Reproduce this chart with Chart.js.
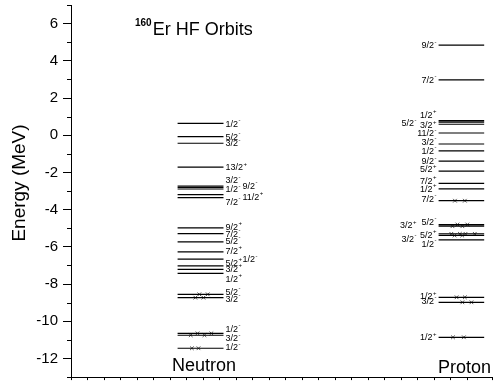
<!DOCTYPE html>
<html>
<head>
<meta charset="utf-8">
<script src="https://cdn.jsdelivr.net/npm/chart.js@4"></script>
<style>
html, body { margin: 0; padding: 0; background: #fff; }
</style>
</head>
<body>
<canvas id="orbitChart" width="497" height="382"></canvas>
<script>
// single-particle levels (MeV)
const neutronEnergy = [0.64, -0.07, -0.43, -1.71, -2.73, -2.81, -2.89, -3.19, -3.35, -4.98, -5.29, -5.73,
                       -6.27, -6.66, -7.02, -7.21, -7.43, -8.55, -8.73, -10.65, -10.75, -11.45];
const neutronSpin   = ['1/2', '5/2', '3/2', '13/2', '3/2', '9/2', '1/2', '11/2', '7/2', '9/2', '7/2', '5/2',
                       '7/2', '1/2', '5/2', '3/2', '1/2', '5/2', '3/2', '1/2', '3/2', '1/2'];
const neutronParity = ['-', '-', '-', '+', '-', '-', '-', '+', '-', '+', '-', '-',
                       '+', '-', '+', '+', '+', '-', '-', '-', '-', '-'];

const protonEnergy = [4.84, 2.98, 0.78, 0.70, 0.59, 0.12, -0.47, -0.84, -1.39, -1.93, -2.59, -2.88,
                      -3.52, -4.80, -4.89, -5.30, -5.39, -5.62, -8.71, -8.98, -10.86];
const protonSpin   = ['9/2', '7/2', '1/2', '5/2', '3/2', '11/2', '3/2', '1/2', '9/2', '5/2', '7/2', '1/2',
                      '7/2', '5/2', '3/2', '5/2', '3/2', '1/2', '1/2', '3/2', '1/2'];
const protonParity = ['-', '-', '+', '-', '+', '-', '-', '-', '-', '+', '+', '+',
                      '-', '-', '+', '+', '-', '-', '+', '-', '+'];

// occupied-state "x" marks: [energy, position along the axis]
const neutronMarks = [[-8.55, 7.77], [-8.55, 8.28], [-8.73, 7.53], [-8.73, 8.02],
                      [-10.65, 7.66], [-10.65, 8.50], [-10.75, 7.25], [-10.75, 8.08],
                      [-11.45, 7.32], [-11.45, 7.72]];
const protonMarks = [[-3.52, 23.25], [-3.52, 23.85],
                     [-4.80, 23.40], [-4.80, 24.00], [-4.89, 23.10], [-4.89, 23.70],
                     [-5.30, 23.03], [-5.30, 23.55], [-5.30, 23.89], [-5.30, 24.45],
                     [-5.39, 23.23], [-5.39, 23.69],
                     [-8.71, 23.35], [-8.71, 23.85], [-8.98, 23.70], [-8.98, 24.25],
                     [-10.86, 23.13], [-10.86, 23.79]];

const energyTicks = [-12, -10, -8, -6, -4, -2, 0, 2, 4, 6];
const columnNames = ['Neutron', 'Proton'];

// layout: where each column's levels sit, and label nudges [column, dy px]
const neutronCol = [6.455, 9.234];
const protonCol = [22.26, 25.02];
const neutronLabelPos = [[0,0],[0,0],[0,0],[0,0],[0,-6],[1,-2],[0,0],[1,2],[0,4],[0,-1],[0,0],[0,-1],
                         [0,-1],[1,0],[0,-3],[0,-1],[0,5],[0,-3],[0,1],[0,-5],[0,3],[0,-1]];
const protonLabelPos = [[0,0],[0,0],[0,-6],[1,1],[0,1],[0,0],[0,-2],[0,0],[0,0],[0,-2],[0,-3],[0,0],
                        [0,-2],[0,-3],[1,-1],[0,1],[1,3],[0,4],[0,-1],[0,-2],[0,0]];

const FONT = '"Liberation Sans", Arial, Helvetica, sans-serif';

function levelData(energies, col) {
    const d = [];
    energies.forEach(e => {
        d.push({x: col[0], y: e}, {x: col[1], y: e}, {x: col[1], y: null});
    });
    return d;
}

function drawLevelLabel(ctx, spin, parity, x, y, alignRight) {
    ctx.font = '9px ' + FONT;
    const w1 = ctx.measureText(spin).width;
    ctx.font = '6px ' + FONT;
    const w2 = ctx.measureText(parity).width;
    const x0 = alignRight ? x - w1 - w2 - 0.5 : x;
    ctx.font = '9px ' + FONT;
    ctx.fillText(spin, x0, y + 3.2);
    ctx.font = '6px ' + FONT;
    ctx.fillText(parity, x0 + w1 + 0.5, y - 1.5);
}

const decorPlugin = {
    id: 'decor',
    afterDraw(chart) {
        const ctx = chart.ctx;
        const xs = chart.scales.x, ys = chart.scales.y;
        ctx.save();
        ctx.fillStyle = '#000';
        ctx.textAlign = 'left';
        ctx.textBaseline = 'alphabetic';

        // minor ticks on energy axis
        ctx.strokeStyle = '#000';
        ctx.lineWidth = 1;
        for (let v = -13; v <= 7; v += 2) {
            const py = Math.round(ys.getPixelForValue(v)) + 0.5;
            ctx.beginPath();
            ctx.moveTo(xs.left - 4, py);
            ctx.lineTo(xs.left, py);
            ctx.stroke();
        }

        // level labels
        neutronEnergy.forEach((e, i) => {
            const p = neutronLabelPos[i];
            const px = xs.getPixelForValue(neutronCol[1]) + 2 + p[0] * 17;
            drawLevelLabel(ctx, neutronSpin[i], neutronParity[i], px, ys.getPixelForValue(e) + p[1], false);
        });
        protonEnergy.forEach((e, i) => {
            const p = protonLabelPos[i];
            const px = xs.getPixelForValue(protonCol[0]) - 2 - p[0] * 20;
            drawLevelLabel(ctx, protonSpin[i], protonParity[i], px, ys.getPixelForValue(e) + p[1], true);
        });

        // title
        ctx.font = 'bold 10px ' + FONT;
        ctx.fillText('160', 135, 25.5);
        const sw = ctx.measureText('160').width;
        ctx.font = '18px ' + FONT;
        ctx.fillText('Er HF Orbits', 135 + sw + 1, 35);

        // column names
        ctx.font = '18px ' + FONT;
        ctx.textAlign = 'center';
        ctx.fillText(columnNames[0], 204, 371);
        ctx.fillText(columnNames[1], 464.5, 373);

        // y axis title
        ctx.font = '19px ' + FONT;
        ctx.translate(25, 183);
        ctx.rotate(-Math.PI / 2);
        ctx.fillText('Energy (MeV)', 0, 0);
        ctx.restore();
    }
};

new Chart(document.getElementById('orbitChart'), {
    type: 'scatter',
    data: {
        datasets: [
            {
                label: 'Neutron',
                data: levelData(neutronEnergy, neutronCol),
                showLine: true, spanGaps: false,
                borderColor: '#000', borderWidth: 1.2,
                pointRadius: 0
            },
            {
                label: 'Proton',
                data: levelData(protonEnergy, protonCol),
                showLine: true, spanGaps: false,
                borderColor: '#000', borderWidth: 1.2,
                pointRadius: 0
            },
            {
                label: 'occupied',
                data: neutronMarks.concat(protonMarks).map(m => ({x: m[1], y: m[0]})),
                pointStyle: 'crossRot',
                pointRadius: 2.6,
                borderColor: '#444',
                borderWidth: 0.9,
                showLine: false
            }
        ]
    },
    options: {
        responsive: false,
        animation: false,
        devicePixelRatio: 1,
        layout: { padding: { top: 5, right: 0, bottom: 0, left: 0 } },
        plugins: {
            legend: { display: false },
            tooltip: { enabled: false },
            title: { display: false }
        },
        scales: {
            x: {
                type: 'linear',
                min: 0, max: 25.5,
                ticks: { display: false, stepSize: 1, autoSkip: false },
                grid: { drawOnChartArea: false, drawTicks: true, tickLength: 3, color: '#000' },
                border: { display: true, color: '#000', width: 1 },
                afterFit(scale) {
                    scale.height = 3;
                    scale.paddingLeft = 0; scale.paddingRight = 0;
                }
            },
            y: {
                type: 'linear',
                min: -13, max: 7,
                ticks: {
                    stepSize: 1, autoSkip: false, padding: 5,
                    color: '#000',
                    font: { family: FONT, size: 15 },
                    callback: v => energyTicks.includes(v) ? String(v) : ''
                },
                grid: {
                    drawOnChartArea: false, drawTicks: true, tickLength: 8,
                    color: ctx => (ctx.tick && energyTicks.includes(ctx.tick.value)) ? '#000' : 'rgba(0,0,0,0)'
                },
                border: { display: true, color: '#000', width: 1 },
                afterFit(scale) {
                    scale.width = 71;
                    scale.paddingTop = 0; scale.paddingBottom = 0;
                }
            }
        }
    },
    plugins: [decorPlugin]
});
</script>
</body>
</html>
